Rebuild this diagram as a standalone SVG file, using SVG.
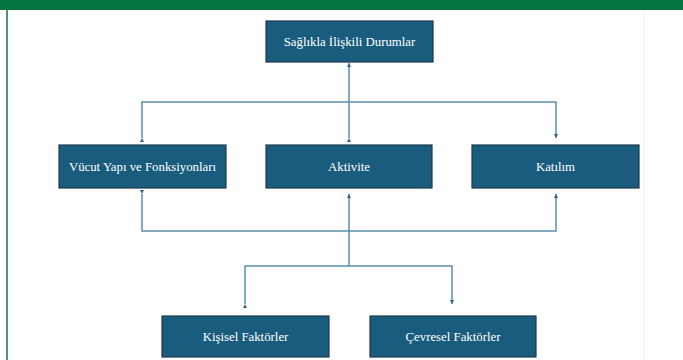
<svg xmlns="http://www.w3.org/2000/svg" width="683" height="360" viewBox="0 0 683 360">
<style>
.box{fill:#1a5c7e;stroke:#1d3a4f;stroke-width:1.2}
.lbl{font-family:"Liberation Serif","Times New Roman",serif;font-size:12.8px;fill:#ffffff;text-anchor:middle}
.ln{fill:none;stroke:#5a8eac;stroke-width:1.5}
</style>
<defs>
<marker id="ah" viewBox="0 0 6 6" refX="6" refY="3" markerWidth="4" markerHeight="4" orient="auto" markerUnits="userSpaceOnUse">
<path d="M0,0 L6,3 L0,6 z" fill="#2f6688"/>
</marker>
</defs>
<rect x="0" y="0" width="683" height="360" fill="#ffffff"/>
<rect x="0" y="0" width="683" height="10" fill="#047342"/>
<rect x="6" y="10" width="2" height="350" fill="#4f9a6c"/>
<line x1="644" y1="14" x2="644" y2="360" stroke="#ececec" stroke-width="1"/>
<g id="connectors">
<path class="ln" d="M349,138 L349,63" marker-end="url(#ah)" marker-start="url(#ah)"/>
<path class="ln" d="M142,138 L142,102 L556,102 L556,138" marker-start="url(#ah)" marker-end="url(#ah)"/>
<path class="ln" d="M142,194 L142,231 L556,231 L556,194" marker-start="url(#ah)" marker-end="url(#ah)"/>
<path class="ln" d="M349,266 L349,194" marker-end="url(#ah)"/>
<path class="ln" d="M245,304 L245,266 L452,266 L452,304" marker-start="url(#ah)" marker-end="url(#ah)"/>
</g>
<g id="saglikla"><rect class="box" x="266" y="21" width="167" height="41"/><text class="lbl" x="349.5" y="45.5">Sağlıkla İlişkili Durumlar</text></g>
<g id="vucut"><rect class="box" x="59" y="145" width="167" height="43"/><text class="lbl" x="142.5" y="170.5">Vücut Yapı ve Fonksiyonları</text></g>
<g id="aktivite"><rect class="box" x="266" y="145" width="166" height="43"/><text class="lbl" x="349" y="170.5">Aktivite</text></g>
<g id="katilim"><rect class="box" x="472" y="145" width="167" height="43"/><text class="lbl" x="555.5" y="170.5">Katılım</text></g>
<g id="kisisel"><rect class="box" x="162" y="316" width="167" height="41"/><text class="lbl" x="245.5" y="340.5">Kişisel Faktörler</text></g>
<g id="cevresel"><rect class="box" x="370" y="316" width="166" height="41"/><text class="lbl" x="453" y="340.5">Çevresel Faktörler</text></g>
</svg>
